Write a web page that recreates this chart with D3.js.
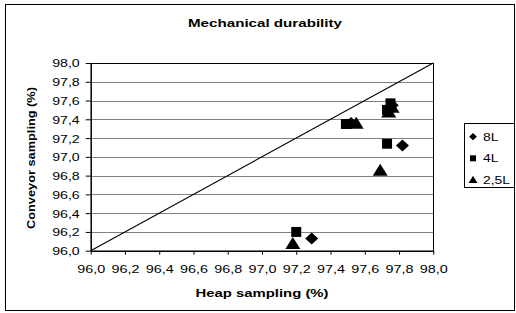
<!DOCTYPE html>
<html><head><meta charset="utf-8">
<script src="https://cdn.jsdelivr.net/npm/d3@7"></script>
<style>body{margin:0;background:#fff}svg{display:block}text{font-family:"Liberation Sans",Arial,sans-serif;fill:#000}</style>
</head><body>
<svg id="c" width="516" height="313"></svg>
<script>
const title = "Mechanical durability";
const xTitle = "Heap sampling (%)";
const yTitle = "Conveyor sampling (%)";
const tickValues = [96.0, 96.2, 96.4, 96.6, 96.8, 97.0, 97.2, 97.4, 97.6, 97.8, 98.0];
const seriesNames = ["8L", "4L", "2,5L"];
const x8L = [97.82, 97.29, 97.76, 97.52];
const y8L = [97.12, 96.13, 97.55, 97.36];
const x4L = [97.49, 97.73, 97.20, 97.75, 97.73];
const y4L = [97.35, 97.14, 96.20, 97.57, 97.50];
const x25L = [97.55, 97.69, 97.18, 97.74, 97.76];
const y25L = [97.35, 96.85, 96.07, 97.47, 97.52];
const diagonal = [96.0, 98.0];

const svg = d3.select("#c");
const fmt = v => d3.format(".1f")(v).replace(".", ",");
const X = d3.scaleLinear().domain([96, 98]).range([90.7, 433.3]);
const Y = d3.scaleLinear().domain([96, 98]).range([250.7, 63]);

// outer border
svg.append("rect").attr("x", 5.5).attr("y", 4.5).attr("width", 509).attr("height", 306)
  .attr("fill", "#fff").attr("stroke", "#000");

// title
svg.append("text").attr("x", 265).attr("y", 27).attr("text-anchor", "middle")
  .attr("font-size", 11).attr("font-weight", "bold")
  .attr("textLength", 154).attr("lengthAdjust", "spacingAndGlyphs").text(title);

// gridlines
svg.append("g").selectAll("line").data(tickValues.slice(1, -1)).join("line")
  .attr("x1", X(96)).attr("x2", X(98)).attr("y1", d => Math.round(Y(d)) + 0.5).attr("y2", d => Math.round(Y(d)) + 0.5)
  .attr("stroke", "#808080");

// plot frame top/right
svg.append("line").attr("x1", X(96)).attr("x2", X(98)).attr("y1", Math.round(Y(98)) + 0.5).attr("y2", Math.round(Y(98)) + 0.5).attr("stroke", "#000");
svg.append("line").attr("x1", Math.round(X(98)) + 0.5).attr("x2", Math.round(X(98)) + 0.5).attr("y1", Y(98)).attr("y2", Y(96)).attr("stroke", "#000");

// axes
const xAxis = d3.axisBottom(X).tickValues(tickValues).tickFormat(fmt).tickSizeInner(4).tickSizeOuter(0);
const gx = svg.append("g").attr("transform", `translate(0,${Y(96)})`).call(xAxis);
gx.select(".domain").attr("stroke", "#000").attr("stroke-width", 1.5);
gx.selectAll(".tick line").attr("stroke", "#000");
gx.selectAll(".tick text").attr("font-size", 11).attr("y", 22).attr("dy", 0)
  .attr("textLength", 28).attr("lengthAdjust", "spacingAndGlyphs")
  .style("font-family", '"Liberation Sans",Arial,sans-serif').attr("fill", "#000");

const yAxis = d3.axisLeft(Y).tickValues(tickValues).tickFormat(fmt).tickSizeInner(5).tickSizeOuter(0);
const gy = svg.append("g").attr("transform", `translate(${X(96)},0)`).call(yAxis);
gy.select(".domain").attr("stroke", "#000").attr("stroke-width", 1.5);
gy.selectAll(".tick line").attr("stroke", "#000");
gy.selectAll(".tick text").attr("font-size", 11).attr("x", -11).attr("dy", "0.36em")
  .attr("textLength", 27.5).attr("lengthAdjust", "spacingAndGlyphs")
  .style("font-family", '"Liberation Sans",Arial,sans-serif').attr("fill", "#000");

// axis titles
svg.append("text").attr("x", 262).attr("y", 297).attr("text-anchor", "middle")
  .attr("font-size", 11).attr("font-weight", "bold")
  .attr("textLength", 133).attr("lengthAdjust", "spacingAndGlyphs").text(xTitle);
svg.append("text").attr("transform", "translate(35,158) rotate(-90)").attr("text-anchor", "middle")
  .attr("font-size", 11).attr("font-weight", "bold")
  .attr("textLength", 142).attr("lengthAdjust", "spacingAndGlyphs").text(yTitle);

// diagonal
svg.append("line").attr("x1", X(diagonal[0])).attr("y1", Y(diagonal[0]))
  .attr("x2", X(diagonal[1])).attr("y2", Y(diagonal[1])).attr("stroke", "#000").attr("stroke-width", 1.1);

// marker shapes
function marker(type, s) {
  if (type === 0) { const w = 6.5 * s, h = 6 * s; return `M0,${-h}L${w},0L0,${h}L${-w},0Z`; }
  if (type === 1) { const w = 5 * s, h = 5 * s; return `M${-w},${-h}H${w}V${h}H${-w}Z`; }
  const w = 7.5 * s, h = 12 * s; return `M0,${-h * 0.6}L${w},${h * 0.4}L${-w},${h * 0.4}Z`;
}
const series = [
  { xs: x8L, ys: y8L },
  { xs: x4L, ys: y4L },
  { xs: x25L, ys: y25L }
];
series.forEach((s, i) => {
  svg.append("g").selectAll("path").data(s.xs.map((v, j) => [v, s.ys[j]])).join("path")
    .attr("d", marker(i, 1)).attr("transform", d => `translate(${X(d[0])},${Y(d[1])})`)
    .attr("fill", "#000");
});

// legend
svg.append("rect").attr("x", 464.5).attr("y", 123.5).attr("width", 50).attr("height", 64)
  .attr("fill", "#fff").attr("stroke", "#000");
const legY = [136.7, 158.3, 180];
seriesNames.forEach((n, i) => {
  svg.append("path").attr("d", marker(i, 0.6)).attr("transform", `translate(473,${legY[i]})`).attr("fill", "#000");
  svg.append("text").attr("x", 483).attr("y", legY[i] + 4).attr("font-size", 11)
    .attr("textLength", i === 2 ? 27 : 15.5).attr("lengthAdjust", "spacingAndGlyphs").text(n);
});
</script>
</body></html>
